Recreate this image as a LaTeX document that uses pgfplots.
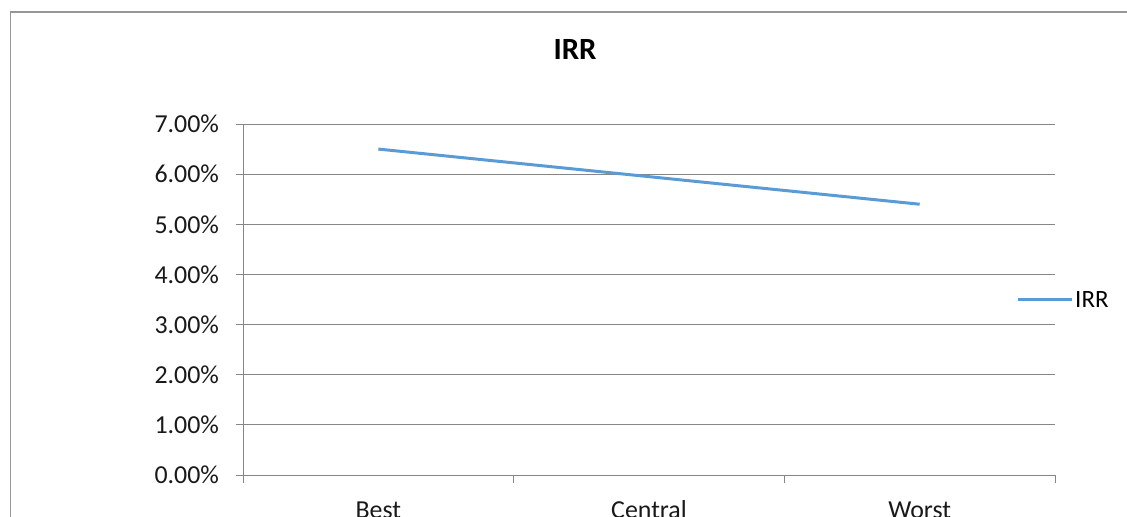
\documentclass[border=0pt]{standalone}
\usepackage{pgfplots}
\pgfplotsset{compat=1.18}
\usepackage{fontspec}
\setmainfont{Carlito}
\definecolor{irrblue}{RGB}{91,155,213}
\definecolor{gridgray}{RGB}{134,134,134}
\definecolor{framegray}{RGB}{150,150,150}
\begin{document}
\begin{tikzpicture}
\useasboundingbox (0,0) rectangle (1127bp,517bp);
\draw[framegray, line width=1.2bp] (10.5bp,0bp) -- (10.5bp,505bp) -- (1127bp,505bp);
\begin{axis}[
  at={(243bp,42bp)}, anchor=south west,
  scale only axis, width=812bp, height=351bp,
  xmin=-0.5, xmax=2.5, ymin=0, ymax=7,
  axis x line*=bottom, axis y line*=left,
  axis line style={gridgray, line width=1bp, -},
  ytick={0,1,...,7},
  ymajorgrids, grid style={gridgray, line width=1bp},
  /pgf/number format/assume math mode=true,
  yticklabel={\pgfmathprintnumber[fixed,fixed zerofill,precision=2]{\tick}\%},
  xtick={-0.5,0.5,1.5,2.5}, xticklabels={},
  extra x ticks={0,1,2}, extra x tick labels={Best,Central,Worst},
  extra x tick style={major tick length=0pt, grid=none},
  tick align=outside,
  major tick length=7.5bp,
  tick style={gridgray, line width=1bp},
  every tick label/.append style={font=\fontsize{26}{31}\selectfont, text=black!90},
  yticklabel style={xshift=-13bp},
  xticklabel style={anchor=base, yshift=-43bp},
  title={IRR},
  title style={at={(0.4089,1.1966)}, anchor=center, font=\fontsize{31}{36}\selectfont\bfseries},
  legend style={at={(0.9520,0.4986)}, anchor=west, draw=none, fill=none,
    font=\fontsize{25}{30}\selectfont, inner sep=0pt, nodes={inner sep=2bp}},
  legend image code/.code={\draw[#1] (0bp,0bp) -- (54bp,0bp);},
]
\addplot[irrblue, line width=3bp, no markers] coordinates {(0,6.50) (1,5.95) (2,5.40)};
\addlegendentry{IRR}
\end{axis}
\end{tikzpicture}
\end{document}
